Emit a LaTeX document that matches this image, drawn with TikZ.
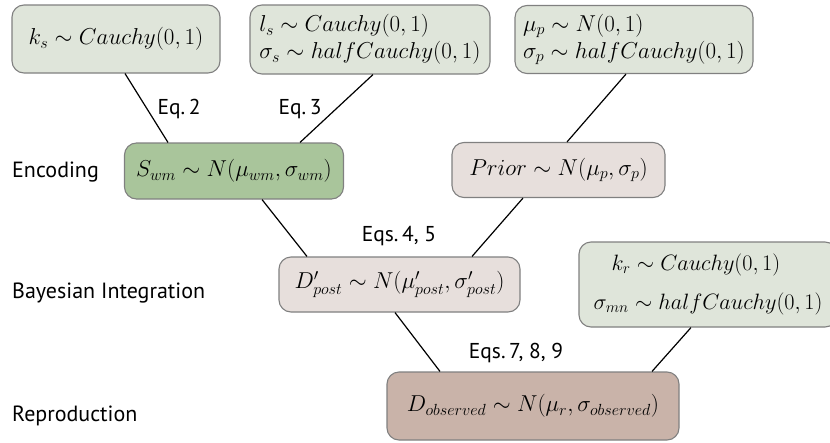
\RequirePackage{fix-cm}
\documentclass[tikz,border=0pt]{standalone}
\usepackage{fontspec}
\setsansfont{PT Sans}
\usetikzlibrary{calc}
\definecolor{paramfill}{HTML}{DFE5DA}
\definecolor{encfill}{HTML}{A9C59B}
\definecolor{midfill}{HTML}{E7DFDC}
\definecolor{obsfill}{HTML}{C9B3A9}
\definecolor{boxline}{HTML}{808080}
\tikzset{
  box/.style={draw=boxline, line width=1.1pt, rounded corners=12pt, inner sep=0pt,
    font=\fontsize{23}{27}\selectfont},
  param/.style={box, fill=paramfill},
  lab/.style={inner sep=0pt, font=\sffamily\fontsize{22}{26}\selectfont},
  eqlab/.style={inner sep=0pt, font=\sffamily\fontsize{21.5}{25}\selectfont},
  conn/.style={line width=1.2pt, black},
}
\begin{document}
\begin{tikzpicture}[x=1pt,y=-1pt]
\useasboundingbox (0,0) rectangle (830,442);
% parameter boxes
\node[param, minimum width=208pt, minimum height=68pt] (ks) at (116,39) {$k_s \sim Cauchy(0,1)$};
\node[param, minimum width=240pt, minimum height=69pt, align=left] (ls) at (370,39.5)
  {$l_s \sim Cauchy(0,1)$\\$\sigma_s \sim halfCauchy(0,1)$};
\node[param, minimum width=238pt, minimum height=68pt, align=left] (mup) at (634,39.5)
  {$\mu_p \sim N(0,1)$\\$\sigma_p \sim halfCauchy(0,1)$};
\node[param, minimum width=258pt, minimum height=85pt, align=left, font=\fontsize{22.2}{27}\selectfont] (kr) at (708,284.5)
  {\hspace*{18pt}$k_r \sim Cauchy(0,1)$\\[12pt]$\sigma_{mn} \sim halfCauchy(0,1)$};
% stage boxes
\node[box, fill=encfill, minimum width=219pt, minimum height=56pt] (swm) at (234,171) {$S_{wm} \sim N(\mu_{wm},\sigma_{wm})$};
\node[box, fill=midfill, minimum width=213pt, minimum height=55pt] (prior) at (558.5,170) {$Prior \sim N(\mu_p,\sigma_p)$};
\node[box, fill=midfill, minimum width=241pt, minimum height=55pt] (dpost) at (399.5,284.5) {$D'_{post} \sim N(\mu'_{post},\sigma'_{post})$};
\node[box, fill=obsfill, minimum width=292pt, minimum height=68pt] (dobs) at (533,406) {$D_{observed} \sim N(\mu_r,\sigma_{observed})$};
% stage labels
\node[lab, anchor=west] (enc) at (12,172) {Encoding};
\node[lab, anchor=west] (bay) at (12,293) {Bayesian Integration};
\node[lab, anchor=west] (rep) at (12,416) {Reproduction};
% equation labels
\node[eqlab] (eq2) at (179,109) {Eq.\,2};
\node[eqlab] (eq3) at (300,109) {Eq.\,3};
\node[eqlab] (eq45) at (399,236) {Eqs.\,4, 5};
\node[eqlab] (eq789) at (516,353) {Eqs.\,7, 8, 9};
% connectors
\draw[conn] ([xshift=9pt]ks.south) -- ([xshift=-66pt]swm.north);
\draw[conn] ([xshift=3pt]ls.south) -- ([xshift=66pt]swm.north);
\draw[conn] ([xshift=-8pt]mup.south) -- ([xshift=8.5pt]prior.north);
\draw[conn] ([xshift=28pt]swm.south) -- ([xshift=-92.5pt]dpost.north);
\draw[conn] ([xshift=-35.5pt]prior.south) -- ([xshift=72.5pt]dpost.north);
\draw[conn] ([xshift=-4.5pt]dpost.south) -- ([xshift=-93pt]dobs.north);
\draw[conn] ([xshift=-17pt]kr.south) -- ([xshift=119pt]dobs.north);
\end{tikzpicture}
\end{document}
